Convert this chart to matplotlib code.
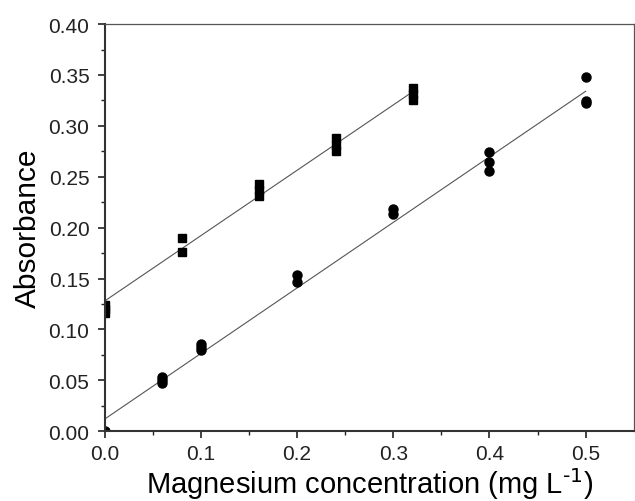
import matplotlib.pyplot as plt
import numpy as np

plt.rcParams["font.family"] = ["Liberation Sans", "DejaVu Sans"]

# squares series (upper calibration)
sq_x = [0.0, 0.0, 0.0, 0.08, 0.08, 0.16, 0.16, 0.16, 0.24, 0.24, 0.24, 0.32, 0.32, 0.32]
sq_y = [0.116, 0.120, 0.124, 0.190, 0.176, 0.243, 0.237, 0.231, 0.288, 0.281, 0.275, 0.337, 0.331, 0.325]

# circles series (lower calibration)
ci_x = [0.0, 0.06, 0.06, 0.06, 0.10, 0.10, 0.10, 0.20, 0.20, 0.30, 0.30, 0.40, 0.40, 0.40, 0.50, 0.50, 0.50]
ci_y = [0.0, 0.053, 0.050, 0.047, 0.086, 0.083, 0.080, 0.153, 0.147, 0.218, 0.213, 0.274, 0.265, 0.256, 0.348, 0.324, 0.322]

# fitted lines
sq_fit_x = [0.0, 0.32]
sq_slope, sq_icpt = 0.642, 0.128
ci_fit_x = [0.0, 0.50]
ci_slope, ci_icpt = 0.644, 0.012

fig = plt.figure(figsize=(6.35, 5.02), dpi=100)
ax = fig.add_axes([0.165, 0.139, 0.833, 0.811])

fx = np.array(sq_fit_x)
ax.plot(fx, sq_slope * fx + sq_icpt, color="#555555", linewidth=0.8)
fx = np.array(ci_fit_x)
ax.plot(fx, ci_slope * fx + ci_icpt, color="#555555", linewidth=0.8)

ax.plot(sq_x, sq_y, linestyle="none", marker="s", markersize=6, color="black")
ax.plot(ci_x, ci_y, linestyle="none", marker="o", markersize=6.5, color="black")

ax.set_xlim(0, 0.55)
ax.set_ylim(0, 0.40)
ax.set_xticks([0.0, 0.1, 0.2, 0.3, 0.4, 0.5])
ax.set_xticks([0.05, 0.15, 0.25, 0.35, 0.45], minor=True)
ax.set_yticks(np.arange(0, 0.401, 0.05))
ax.set_yticks(np.arange(0.025, 0.4, 0.05), minor=True)
ax.xaxis.set_major_formatter(plt.FormatStrFormatter("%.1f"))
ax.yaxis.set_major_formatter(plt.FormatStrFormatter("%.2f"))

ax.tick_params(which="major", direction="out", length=5, width=1.2, labelsize=15,
               colors="#222222")
ax.tick_params(axis="x", which="major", pad=4)
ax.tick_params(axis="y", which="major", pad=6)
ax.tick_params(which="minor", direction="out", length=3, width=1.0, colors="#222222")
ax.tick_params(top=False, right=False, which="both")

for side in ["left", "bottom"]:
    ax.spines[side].set_linewidth(1.5)
    ax.spines[side].set_color("#333333")
for side in ["top", "right"]:
    ax.spines[side].set_linewidth(0.9)
    ax.spines[side].set_color("#555555")

ax.set_xlabel("Magnesium concentration (mg L$^{\\text{-1}}$)", fontsize=21)
ax.xaxis.label.set_va("baseline")
ax.xaxis.set_label_coords(0.5, -0.151)
ax.set_ylabel("Absorbance", fontsize=21.5, labelpad=5)

fig.savefig("out.png", dpi=100)
